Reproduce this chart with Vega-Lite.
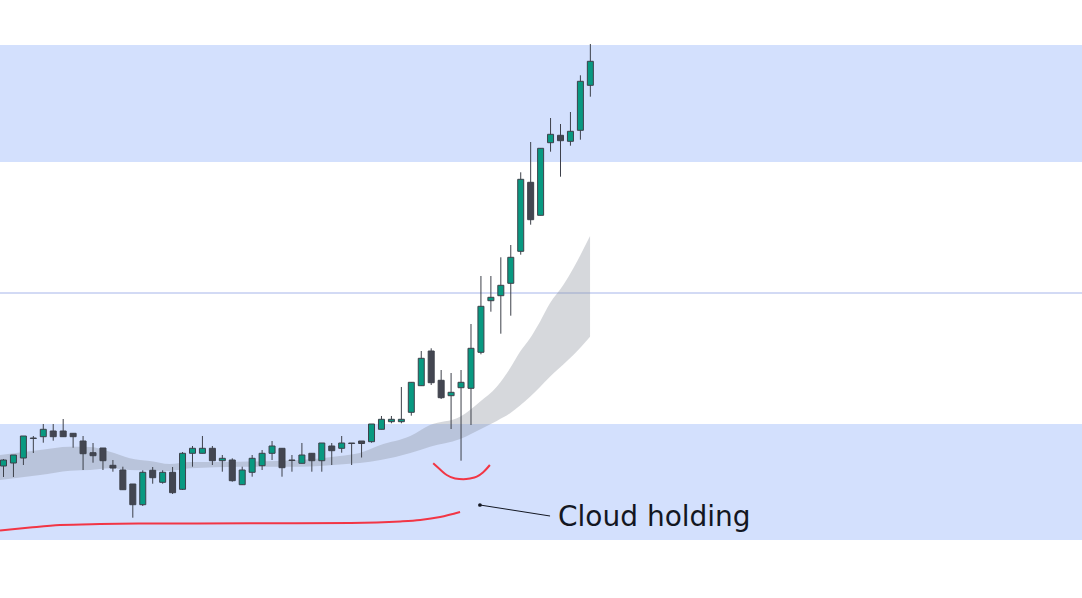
{
  "$schema": "https://vega.github.io/schema/vega-lite/v6.json",
  "width": 1082,
  "height": 598,
  "autosize": {"type": "none"},
  "padding": 0,
  "background": "#ffffff",
  "config": {"view": {"stroke": null}, "scale": {"continuousPadding": 0}},
  "datasets": {
    "bands": [{"lo": 436, "hi": 553}, {"lo": 58, "hi": 174}],
    "hline": [{"level": 305}],
    "cloud": [
      {"x": -0.35, "top": 143, "bot": 118},
      {"x": 3.67, "top": 148, "bot": 123},
      {"x": 6.69, "top": 151.3, "bot": 127.3},
      {"x": 8.7, "top": 151, "bot": 128},
      {"x": 10.7, "top": 146.3, "bot": 129.7},
      {"x": 11.7, "top": 143, "bot": 129},
      {"x": 12.7, "top": 139.7, "bot": 128},
      {"x": 14.7, "top": 137, "bot": 127.5},
      {"x": 16.7, "top": 134, "bot": 127},
      {"x": 18.75, "top": 136, "bot": 129.7},
      {"x": 23.8, "top": 136.3, "bot": 131.3},
      {"x": 29.8, "top": 138, "bot": 131.3},
      {"x": 33.8, "top": 142, "bot": 133.5},
      {"x": 35.8, "top": 145, "bot": 135},
      {"x": 37.9, "top": 153, "bot": 138},
      {"x": 40.9, "top": 162, "bot": 145},
      {"x": 42.88, "top": 173, "bot": 151.3},
      {"x": 45.9, "top": 181.3, "bot": 159},
      {"x": 47.9, "top": 196.3, "bot": 168.5},
      {"x": 49.59, "top": 211.3, "bot": 177},
      {"x": 50.93, "top": 229.7, "bot": 184.7},
      {"x": 51.93, "top": 246.3, "bot": 192.5},
      {"x": 52.94, "top": 259.7, "bot": 201.3},
      {"x": 53.94, "top": 276.3, "bot": 211},
      {"x": 54.94, "top": 294.7, "bot": 221.3},
      {"x": 56.28, "top": 313, "bot": 233.5},
      {"x": 57.29, "top": 329.7, "bot": 243},
      {"x": 58.97, "top": 362, "bot": 261.3}
    ],
    "redlines": [
      {"seg": "a", "x": -0.35, "y": 67.5},
      {"seg": "a", "x": 2.66, "y": 70.5},
      {"seg": "a", "x": 5.68, "y": 73},
      {"seg": "a", "x": 9.7, "y": 74},
      {"seg": "a", "x": 14.7, "y": 74.5},
      {"seg": "a", "x": 24.8, "y": 74.7},
      {"seg": "a", "x": 34.9, "y": 75},
      {"seg": "a", "x": 39.9, "y": 76.5},
      {"seg": "a", "x": 41.9, "y": 78},
      {"seg": "a", "x": 43.9, "y": 81},
      {"seg": "a", "x": 45.9, "y": 86},
      {"seg": "b", "x": 43.2, "y": 134.7},
      {"seg": "b", "x": 43.9, "y": 128.5},
      {"seg": "b", "x": 44.56, "y": 123},
      {"seg": "b", "x": 45.4, "y": 119.5},
      {"seg": "b", "x": 46.23, "y": 118.7},
      {"seg": "b", "x": 46.9, "y": 119.5},
      {"seg": "b", "x": 47.58, "y": 121.3},
      {"seg": "b", "x": 48.2, "y": 125.5},
      {"seg": "b", "x": 48.9, "y": 133}
    ],
    "pointer": [{"x": 47.9, "y": 93}, {"x": 54.95, "y": 82}],
    "label": [{"x": 55.75, "y": 72, "text": "Cloud holding"}],
    "candles": [
      {"x": 0, "o": 132, "h": 139, "l": 121, "c": 138},
      {"x": 1, "o": 135, "h": 143, "l": 121, "c": 143},
      {"x": 2, "o": 140, "h": 162, "l": 133, "c": 162},
      {"x": 3, "o": 160, "h": 162, "l": 145, "c": 159.5},
      {"x": 4, "o": 161.3, "h": 174, "l": 155.3, "c": 168.7},
      {"x": 5, "o": 167, "h": 174, "l": 157.3, "c": 161.3},
      {"x": 6, "o": 167, "h": 179, "l": 161, "c": 161.3},
      {"x": 7, "o": 164.7, "h": 164.7, "l": 150.3, "c": 161.3},
      {"x": 8, "o": 157, "h": 162, "l": 128, "c": 144.3},
      {"x": 9, "o": 145.3, "h": 155, "l": 135.3, "c": 142.3},
      {"x": 10, "o": 150, "h": 150, "l": 128, "c": 137.3},
      {"x": 11, "o": 132.7, "h": 138, "l": 126.3, "c": 130},
      {"x": 12, "o": 128, "h": 131.3, "l": 108.3, "c": 108.3},
      {"x": 13, "o": 114, "h": 114, "l": 80.3, "c": 93.3},
      {"x": 14, "o": 93.3, "h": 127.7, "l": 92, "c": 125.7},
      {"x": 15, "o": 127.7, "h": 131, "l": 114.3, "c": 120.3},
      {"x": 16, "o": 115.7, "h": 127.7, "l": 114.3, "c": 125.7},
      {"x": 17, "o": 125.7, "h": 131, "l": 104, "c": 105.3},
      {"x": 18, "o": 108.7, "h": 146, "l": 108, "c": 144.7},
      {"x": 19, "o": 144.7, "h": 152, "l": 131.3, "c": 149.7},
      {"x": 20, "o": 144.7, "h": 162, "l": 144.7, "c": 149.7},
      {"x": 21, "o": 149.7, "h": 152, "l": 133, "c": 137.3},
      {"x": 22, "o": 137.3, "h": 143, "l": 126.3, "c": 139.7},
      {"x": 23, "o": 138, "h": 139.7, "l": 116.3, "c": 117.3},
      {"x": 24, "o": 113.3, "h": 131.3, "l": 113.3, "c": 128},
      {"x": 25, "o": 125.7, "h": 143, "l": 121.3, "c": 139.7},
      {"x": 26, "o": 132.3, "h": 148, "l": 128, "c": 144.7},
      {"x": 27, "o": 144.7, "h": 157, "l": 138, "c": 152},
      {"x": 28, "o": 149.7, "h": 149.7, "l": 121.3, "c": 130.3},
      {"x": 29, "o": 138, "h": 143, "l": 126.3, "c": 137.5},
      {"x": 30, "o": 134.7, "h": 155, "l": 134.7, "c": 143},
      {"x": 31, "o": 144.7, "h": 144.7, "l": 126.3, "c": 137.3},
      {"x": 32, "o": 137.3, "h": 155, "l": 126.3, "c": 155},
      {"x": 33, "o": 152, "h": 155, "l": 133, "c": 147.3},
      {"x": 34, "o": 149.7, "h": 162, "l": 145.3, "c": 155},
      {"x": 35, "o": 155, "h": 155, "l": 133, "c": 154.5},
      {"x": 36, "o": 157, "h": 157, "l": 140.5, "c": 154.5},
      {"x": 37, "o": 156.3, "h": 174, "l": 155.3, "c": 174},
      {"x": 38, "o": 168.7, "h": 182, "l": 168.7, "c": 178.7},
      {"x": 39, "o": 176.3, "h": 182, "l": 174.7, "c": 178.7},
      {"x": 40, "o": 176.3, "h": 211, "l": 174.7, "c": 178.7},
      {"x": 41, "o": 185.7, "h": 215.7, "l": 182.3, "c": 215.7},
      {"x": 42, "o": 212.3, "h": 247, "l": 212.3, "c": 239.7},
      {"x": 43, "o": 247, "h": 249.7, "l": 213, "c": 215.3},
      {"x": 44, "o": 217.7, "h": 228, "l": 199, "c": 200.3},
      {"x": 45, "o": 202.3, "h": 225, "l": 169, "c": 205.7},
      {"x": 46, "o": 210.3, "h": 228, "l": 137.3, "c": 215.7},
      {"x": 47, "o": 209.7, "h": 274, "l": 173, "c": 249.7},
      {"x": 48, "o": 245.7, "h": 322, "l": 243.7, "c": 291.7},
      {"x": 49, "o": 297.3, "h": 322, "l": 286.3, "c": 300.7},
      {"x": 50, "o": 302.3, "h": 340.7, "l": 264.3, "c": 312.7},
      {"x": 51, "o": 314.7, "h": 353, "l": 282.3, "c": 340.7},
      {"x": 52, "o": 346.7, "h": 425.7, "l": 343.3, "c": 418.7},
      {"x": 53, "o": 415.7, "h": 456, "l": 373.3, "c": 378.3},
      {"x": 54, "o": 382.7, "h": 449.7, "l": 382.7, "c": 449.7},
      {"x": 55, "o": 455.3, "h": 480, "l": 446.3, "c": 463.7},
      {"x": 56, "o": 462.7, "h": 474, "l": 421.3, "c": 457.3},
      {"x": 57, "o": 456.7, "h": 486, "l": 452.3, "c": 466.7},
      {"x": 58, "o": 467.7, "h": 522.7, "l": 458.3, "c": 516.7},
      {"x": 59, "o": 512.7, "h": 554, "l": 501.3, "c": 536.7}
    ]
  },
  "layer": [
    {
      "data": {"name": "bands"},
      "mark": {"type": "rect", "color": "#d3e0fd"},
      "encoding": {
        "y": {"field": "lo", "type": "quantitative", "scale": {"domain": [0, 598], "nice": false, "zero": false, "padding": 0}, "axis": null},
        "y2": {"field": "hi"}
      }
    },
    {
      "data": {"name": "hline"},
      "mark": {"type": "rule", "color": "#a6b5ea", "strokeWidth": 1},
      "encoding": {
        "y": {"field": "level", "type": "quantitative", "axis": null}
      }
    },
    {
      "data": {"name": "cloud"},
      "mark": {"type": "area", "color": "#8a8f9c", "opacity": 0.35, "interpolate": "monotone"},
      "encoding": {
        "x": {"field": "x", "type": "quantitative", "scale": {"domain": [-0.352, 108.43], "nice": false, "zero": false, "padding": 0}, "axis": null},
        "y": {"field": "top", "type": "quantitative", "axis": null},
        "y2": {"field": "bot"}
      }
    },
    {
      "data": {"name": "redlines"},
      "mark": {"type": "line", "color": "#f23645", "strokeWidth": 2, "interpolate": "monotone"},
      "encoding": {
        "x": {"field": "x", "type": "quantitative", "axis": null},
        "y": {"field": "y", "type": "quantitative", "axis": null},
        "detail": {"field": "seg"}
      }
    },
    {
      "data": {"name": "candles"},
      "mark": {"type": "rule", "color": "#3d404a", "strokeWidth": 1},
      "encoding": {
        "x": {"field": "x", "type": "quantitative", "axis": null},
        "y": {"field": "l", "type": "quantitative", "axis": null},
        "y2": {"field": "h"}
      }
    },
    {
      "data": {"name": "candles"},
      "mark": {"type": "bar", "size": 6, "stroke": "#3d404a", "strokeWidth": 1},
      "encoding": {
        "x": {"field": "x", "type": "quantitative", "axis": null},
        "y": {"field": "o", "type": "quantitative", "axis": null},
        "y2": {"field": "c"},
        "fill": {"condition": {"test": "datum.c > datum.o", "value": "#089981"}, "value": "#434651"}
      }
    },
    {
      "data": {"name": "pointer"},
      "mark": {"type": "line", "color": "#131722", "strokeWidth": 1},
      "encoding": {
        "x": {"field": "x", "type": "quantitative", "axis": null},
        "y": {"field": "y", "type": "quantitative", "axis": null}
      }
    },
    {
      "data": {"name": "pointer"},
      "transform": [{"filter": "datum.x < 50"}],
      "mark": {"type": "point", "filled": true, "color": "#131722", "size": 14, "opacity": 1},
      "encoding": {
        "x": {"field": "x", "type": "quantitative", "axis": null},
        "y": {"field": "y", "type": "quantitative", "axis": null}
      }
    },
    {
      "data": {"name": "label"},
      "mark": {"type": "text", "align": "left", "baseline": "alphabetic", "font": "DejaVu Sans", "fontSize": 28, "color": "#131722"},
      "encoding": {
        "x": {"field": "x", "type": "quantitative", "axis": null},
        "y": {"field": "y", "type": "quantitative", "axis": null},
        "text": {"field": "text"}
      }
    }
  ]
}
